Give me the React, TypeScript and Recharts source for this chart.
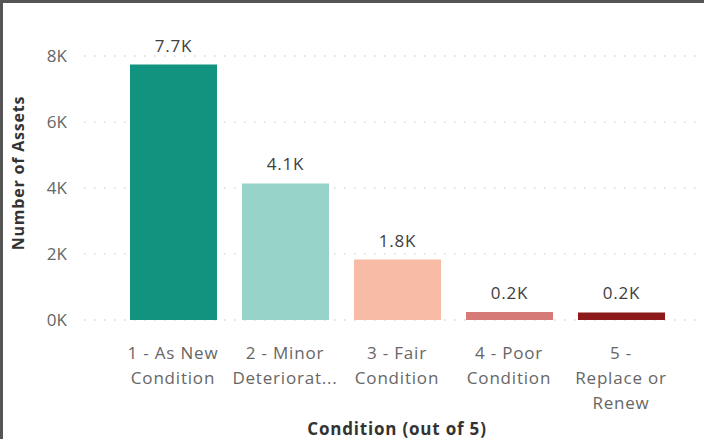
import { BarChart, Bar, XAxis, YAxis, CartesianGrid, Cell, LabelList } from "recharts"

const categories = [
  "1 - As New Condition",
  "2 - Minor Deterioration",
  "3 - Fair Condition",
  "4 - Poor Condition",
  "5 - Replace or Renew",
]
const tickLines = [
  ["1 - As New", "Condition"],
  ["2 - Minor", "Deteriorat..."],
  ["3 - Fair", "Condition"],
  ["4 - Poor", "Condition"],
  ["5 -", "Replace or", "Renew"],
]
const assets = [7740, 4140, 1830, 240, 230]
const barColors = ["#12937F", "#97D3C9", "#F7BBA6", "#D57A77", "#8C1A1A"]
const yTicks = [0, 2000, 4000, 6000, 8000]

const data = categories.map((c, i) => ({ condition: c, assets: assets[i] }))

const FONT = "'Open Sans', 'DejaVu Sans', sans-serif"
const fmtK = (v: number) => `${Math.round(v / 100) / 10}K`

const XTick = ({ x, y, index }: any) => {
  const lines = tickLines[index] || []
  return (
    <text x={x} y={y} textAnchor="middle" fill="#666" fontSize={17} letterSpacing={0.8} fontFamily={FONT}>
      {lines.map((l, i) => (
        <tspan key={i} x={x} dy={i === 0 ? 31 : 25}>
          {l}
        </tspan>
      ))}
    </text>
  )
}

export default function App() {
  return (
    <div style={{ position: "absolute", left: 0, top: 0, width: 704, height: 439, background: "#fff" }}>
      <BarChart
        width={704}
        height={439}
        data={data}
        margin={{ top: 56, right: 7, left: 0, bottom: 19 }}
      >
        <CartesianGrid vertical={false} stroke="#c4c4c4" strokeDasharray="1.5 8.5" />
        <XAxis
          dataKey="condition"
          axisLine={false}
          tickLine={false}
          interval={0}
          height={100}
          padding={{ left: 33, right: 20 }}
          tick={<XTick />}
          label={{
            content: () => (
              <text
                x={397}
                y={435}
                textAnchor="middle"
                fill="#333"
                fontSize={17}
                letterSpacing={0.8}
                fontWeight={700}
                fontFamily={FONT}
              >
                Condition (out of 5)
              </text>
            ),
          }}
        />
        <YAxis
          width={84}
          domain={[0, 8000]}
          ticks={yTicks}
          axisLine={false}
          tickLine={false}
          tickMargin={11}
          tickFormatter={(v: number) => `${v / 1000}K`}
          tick={{ fill: "#666", fontSize: 17, fontFamily: FONT }}
          label={{
            content: () => (
              <text
                x={24}
                y={173}
                transform="rotate(-90 24 173)"
                textAnchor="middle"
                fill="#333"
                fontSize={16}
                letterSpacing={0.8}
                fontWeight={700}
                fontFamily={FONT}
              >
                Number of Assets
              </text>
            ),
          }}
        />
        <Bar dataKey="assets" barSize={87} isAnimationActive={false}>
          {data.map((_, i) => (
            <Cell key={i} fill={barColors[i]} />
          ))}
          <LabelList
            dataKey="assets"
            position="top"
            offset={13}
            formatter={(v: any) => fmtK(Number(v))}
            style={{ fill: "#404040", fontSize: 17, letterSpacing: 0.8, fontFamily: FONT }}
          />
        </Bar>
      </BarChart>
      <div style={{ position: "absolute", left: 0, top: 0, width: 704, height: 3, background: "#555" }} />
      <div style={{ position: "absolute", left: 0, top: 0, width: 3, height: 439, background: "#555" }} />
    </div>
  )
}
